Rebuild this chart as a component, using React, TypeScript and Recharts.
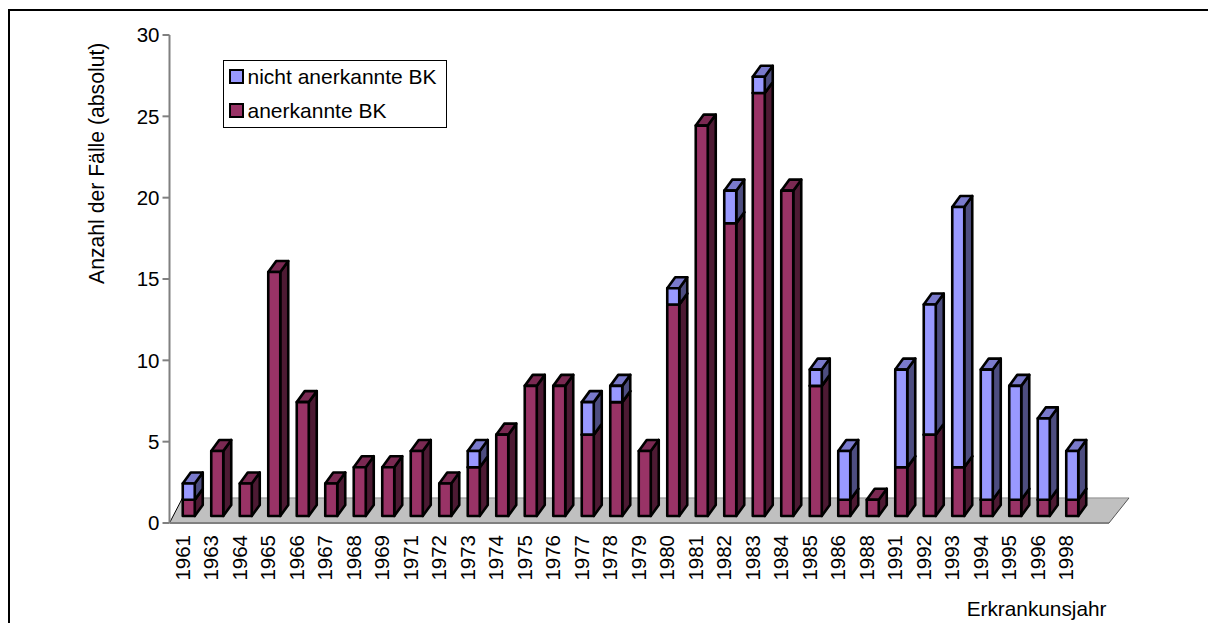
import React from "react";
import { BarChart, Bar, XAxis, YAxis, ReferenceArea, Legend, Label } from "recharts";

const years = ["1961","1963","1964","1965","1966","1967","1968","1969","1971","1972","1973","1974","1975","1976","1977","1978","1979","1980","1981","1982","1983","1984","1985","1986","1988","1991","1992","1993","1994","1995","1996","1998"];
const anerkannt = [1,4,2,15,7,2,3,3,4,2,3,5,8,8,5,7,4,13,24,18,26,20,8,1,1,3,5,3,1,1,1,1];
const nichtAnerkannt = [1,0,0,0,0,0,0,0,0,0,1,0,0,0,2,1,0,1,0,2,1,0,1,3,0,6,8,16,8,7,5,3];
const yTicks = [0,5,10,15,20,25,30];

const data = years.map((jahr, i) => ({ jahr, anerkannt: anerkannt[i], nicht: nichtAnerkannt[i] }));

const FONT = "'Liberation Sans', Arial, sans-serif";
const FS = 20.5;
const DX = 8, DY = 11, SHIFT_X = 5.25, SHIFT_Y = -7;

const Bar3D = (cols: { front: string; side: string; top: string }) => (p: any) => {
  const { x, y, width, height } = p;
  if (!height || height <= 0) return null;
  const l = x + SHIFT_X, t = y + SHIFT_Y, r = l + width, b = t + height;
  const s = { stroke: "#000", strokeWidth: 2.6, strokeLinejoin: "round" as const };
  return (
    <g>
      <polygon points={`${r},${t} ${r + DX},${t - DY} ${r + DX},${b - DY} ${r},${b}`} fill={cols.side} {...s} />
      <polygon points={`${l},${t} ${l + DX},${t - DY} ${r + DX},${t - DY} ${r},${t}`} fill={cols.top} {...s} />
      <rect x={l} y={t} width={width} height={height} fill={cols.front} {...s} />
    </g>
  );
};

const Floor = (p: any) => {
  const { x, y, width, height } = p;
  const b = y + height, R = x + width;
  return (
    <g>
      <polygon points={`${x},${b} ${R + 27.5},${b} ${R + 47.5},${y} ${x + 13},${y}`} fill="#c0c0c0" stroke="none" />
      <line x1={x} y1={b} x2={x + 13} y2={y} stroke="#000" strokeWidth={1} />
      <line x1={x + 13} y1={y} x2={R + 47.5} y2={y} stroke="#8c8c8c" strokeWidth={1} />
      <line x1={R + 27.5} y1={b} x2={R + 47.5} y2={y} stroke="#555" strokeWidth={1} />
      <line x1={x} y1={b} x2={R + 27.5} y2={b} stroke="#808080" strokeWidth={2} />
    </g>
  );
};

const XTick = (p: any) => {
  const { x, y, payload } = p;
  return (
    <text transform={`translate(${x + 6},${y + 4}) rotate(-90)`} textAnchor="end" fontFamily={FONT} fontSize={FS} fill="#000">
      {payload.value}
    </text>
  );
};

const LegendBox = (p: any) => {
  const items = [...(p.payload || [])].reverse();
  return (
    <div style={{ width: 222, height: 66, border: "1px solid #000", background: "#fff", boxSizing: "content-box", fontFamily: FONT, fontSize: 21, position: "relative" }}>
      {items.map((it: any, i: number) => (
        <div key={it.value} style={{ position: "absolute", left: 5, top: 7 + i * 34, height: 16, display: "flex", alignItems: "center", whiteSpace: "nowrap" }}>
          <span style={{ display: "inline-block", width: 11, height: 11, border: "2.5px solid #000", background: it.color, marginRight: 4 }} />
          <span style={{ position: "relative", top: 1 }}>{it.value}</span>
        </div>
      ))}
    </div>
  );
};

export default function App() {
  return (
    <div style={{ position: "absolute", left: 0, top: 0, width: 1208, height: 623, overflow: "hidden", background: "#fff" }}>
      <div style={{ position: "absolute", left: 8, top: 9, width: 1300, height: 700, borderLeft: "2px solid #000", borderTop: "2px solid #000", boxSizing: "border-box" }} />
      <BarChart width={1208} height={623} data={data} barCategoryGap={0} barSize={12}
        margin={{ left: 109.5, right: 126.5, top: 35, bottom: 0 }}>
        <ReferenceArea y1={0} y2={1.54} shape={Floor} ifOverflow="visible" />
        <XAxis dataKey="jahr" interval={0} height={100} tickLine={false} axisLine={false} tick={XTick}>
          <Label value="Erkrankunsjahr" position="insideBottomRight" offset={0} dy={-7} dx={25} fontFamily={FONT} fontSize={20.8} fill="#000" />
        </XAxis>
        <YAxis width={60} domain={[0, 30]} ticks={yTicks} interval={0} tickSize={7} tickMargin={3}
          stroke="#808080" strokeWidth={2} tick={{ fontFamily: FONT, fontSize: FS, fill: "#000" }}>
          <Label value="Anzahl der Fälle (absolut)" angle={-90} position="insideLeft" dx={-18} dy={5} fontFamily={FONT} fontSize={21.2} fill="#000" />
        </YAxis>
        <Legend layout="vertical" verticalAlign="middle" align="center" content={LegendBox}
          wrapperStyle={{ position: "absolute", left: 222.5, top: 60, width: 224, height: 68 }} />
        <Bar dataKey="anerkannt" name="anerkannte BK" stackId="a" fill="#993366" isAnimationActive={false}
          shape={Bar3D({ front: "#993366", side: "#4d1a33", top: "#7a2952" })} />
        <Bar dataKey="nicht" name="nicht anerkannte BK" stackId="a" fill="#9999ff" isAnimationActive={false}
          shape={Bar3D({ front: "#9999ff", side: "#4d4d80", top: "#7a7acc" })} />
      </BarChart>
    </div>
  );
}
